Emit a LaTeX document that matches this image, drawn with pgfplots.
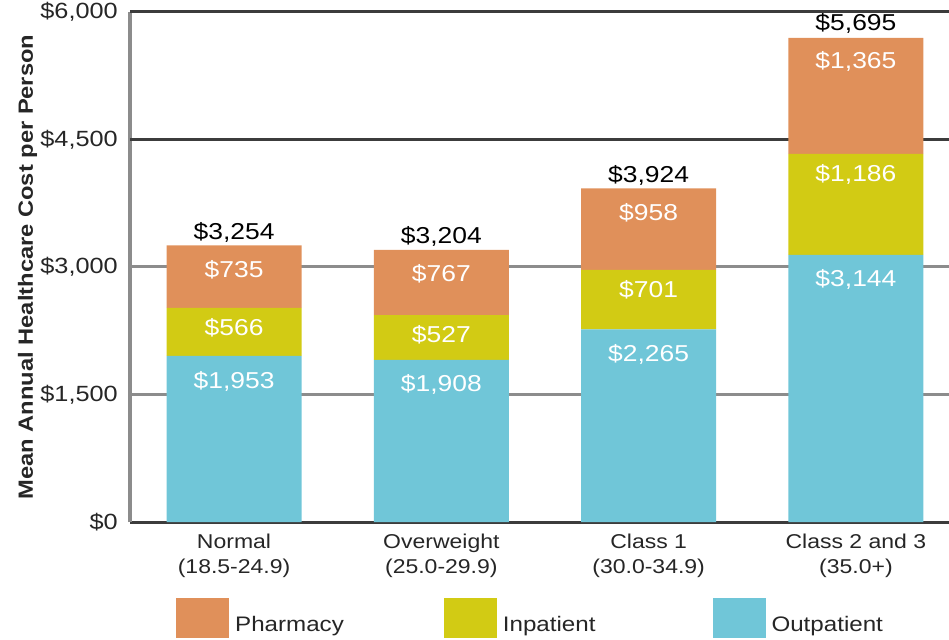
\documentclass[border=0pt]{standalone}
\usepackage{fontspec}
\setmainfont{Liberation Sans}[FakeStretch=1.15]
\usepackage{pgfplots}
\pgfplotsset{compat=1.18}
\usepackage{pgfplotstable}
\definecolor{pharm}{HTML}{E0905A}
\definecolor{inp}{HTML}{D2CB14}
\definecolor{outp}{HTML}{70C6D8}
\definecolor{darkgrid}{HTML}{3C3C3C}
\definecolor{lightgrid}{HTML}{8C8C8C}
\definecolor{tickcol}{HTML}{262626}

\pgfplotstableread{
x outp inp pharm total
0 1953 566 735 3254
1 1908 527 767 3204
2 2265 701 958 3924
3 3144 1186 1365 5695
}\costs

\begin{document}
\begin{tikzpicture}
\path[use as bounding box] (-130bp,-118bp) rectangle (819bp,522bp);
\begin{axis}[
  scale only axis, width=819bp, height=510bp,
  xmin=-0.502, xmax=3.449, ymin=0, ymax=6000,
  ybar stacked, bar width=135bp, clip=false,
  axis x line*=bottom, axis y line*=left,
  x axis line style={darkgrid, line width=3bp},
  y axis line style={lightgrid, line width=4bp},
  ytick={0,1500,3000}, extra y ticks={4500,6000},
  ymajorgrids, grid style={lightgrid, line width=3bp},
  extra y tick style={grid=major, grid style={darkgrid, line width=3bp}},
  major tick length=0pt,
  scaled y ticks=false,
  /pgf/number format/1000 sep={,},
  /pgf/number format/fixed,
  /pgf/number format/precision=0,
  /pgf/number format/assume math mode=true,
  yticklabel={\$\pgfmathprintnumber{\tick}},
  yticklabel style={font=\fontsize{22bp}{26bp}\selectfont, text=tickcol, inner sep=0pt, anchor=east, xshift=-12bp},
  xtick={0,1,2,3},
  xticklabels={{Normal\\(18.5-24.9)},{Overweight\\(25.0-29.9)},{Class 1\\(30.0-34.9)},{Class 2 and 3\\(35.0+)}},
  xticklabel style={font=\fontsize{20bp}{25bp}\selectfont, align=center, inner sep=0pt, anchor=north, yshift=-12bp, text=tickcol},
  every axis y label/.style={at={(axis description cs:-0.1252,0.5)}, rotate=90, anchor=center, font=\bfseries\fontsize{20.6bp}{24bp}\selectfont, text=tickcol},
  ylabel={Mean Annual Healthcare Cost per Person},
  legend columns=3,
  reverse legend,
  legend image code/.code={\fill[#1] (0bp,-13bp) rectangle (53bp,27bp);},
  legend style={draw=none, fill=none, at={(axis description cs:0,0)}, anchor=west, xshift=46bp, yshift=-96bp,
    font=\fontsize{21bp}{25bp}\selectfont, text=tickcol, column sep=4bp,
    /tikz/every even column/.append style={column sep=98bp}, inner sep=0pt},
  legend cell align=left,
]
\addplot[fill=outp, draw=none, point meta=rawy,
  visualization depends on={\thisrow{outp}\as\segval},
  nodes near coords={\$\pgfmathprintnumber{\pgfplotspointmeta}},
  every node near coord/.style={white, font=\fontsize{23bp}{26bp}\selectfont, anchor=center, yshift=\segval*0.0425bp-25bp}]
  table[x=x, y=outp]{\costs};
\addlegendentry{Outpatient}
\addplot[fill=inp, draw=none, point meta=rawy,
  visualization depends on={\thisrow{inp}\as\segval},
  nodes near coords={\$\pgfmathprintnumber{\pgfplotspointmeta}},
  every node near coord/.style={white, font=\fontsize{23bp}{26bp}\selectfont, anchor=center, yshift=\segval*0.0425bp-20bp}]
  table[x=x, y=inp]{\costs};
\addlegendentry{Inpatient\hspace*{17bp}}
\addplot[fill=pharm, draw=none, point meta=rawy,
  visualization depends on={\thisrow{pharm}\as\segval},
  visualization depends on={\thisrow{total}\as\totval},
  nodes near coords={{\color{black}\$\pgfmathprintnumber{\totval}}\\\$\pgfmathprintnumber{\pgfplotspointmeta}},
  every node near coord/.style={white, font=\fontsize{23bp}{38bp}\selectfont, align=center, anchor=center, yshift=\segval*0.0425bp-5bp}]
  table[x=x, y=pharm]{\costs};
\addlegendentry{Pharmacy}
\end{axis}
\end{tikzpicture}
\end{document}
